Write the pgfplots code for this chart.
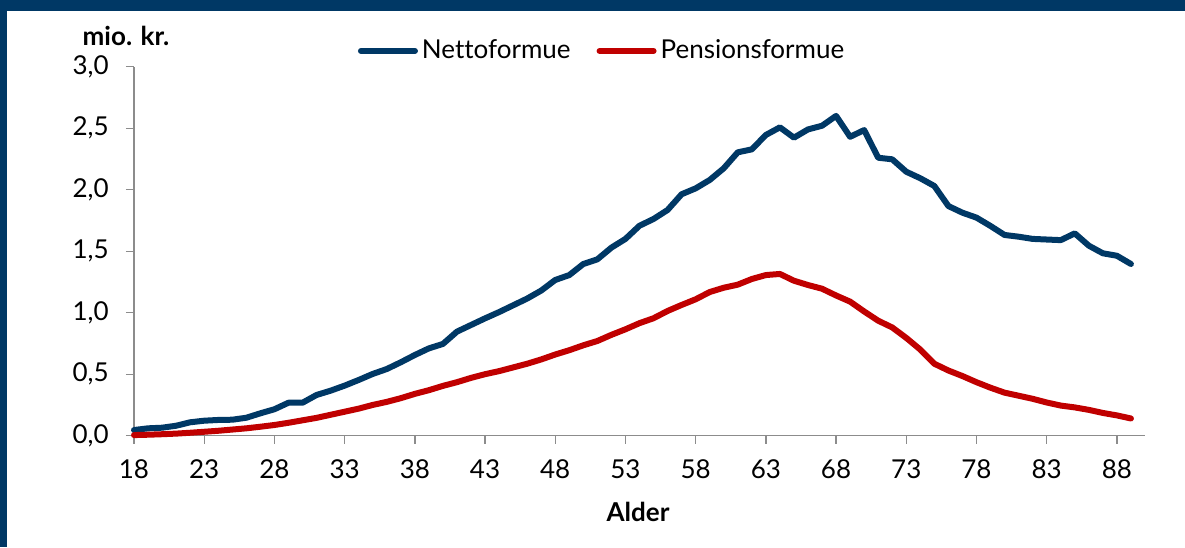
\documentclass[border=0pt]{standalone}
\usepackage{fontspec}
\setmainfont{Lato}[Ligatures={NoCommon}]
\usepackage{pgfplots}
\pgfplotsset{compat=1.18}
\definecolor{dkblue}{RGB}{0,56,101}
\definecolor{dkred}{RGB}{192,0,0}
\definecolor{axgray}{RGB}{140,140,140}
\begin{document}
\begin{tikzpicture}[font=\fontsize{13}{15.6}\selectfont]
\useasboundingbox (0,0) rectangle (592.5pt,273.5pt);
\fill[white] (0,0) rectangle (592.5pt,273.5pt);
\fill[dkblue] (0,268pt) rectangle (592.5pt,273.5pt);
\fill[dkblue] (0,0) rectangle (3.5pt,273.5pt);
\begin{axis}[
  at={(67pt,55.65pt)}, anchor=south west,
  scale only axis, width=505.5pt, height=184.5pt,
  xmin=18, xmax=90, ymin=0, ymax=3,
  axis lines*=left,
  axis line style={axgray, line width=0.7pt},
  every tick/.style={axgray, line width=0.7pt},
  tick align=outside, major tick length=4pt,
  xtick={18,23,...,88}, ytick={0,0.5,...,3},
  /pgf/number format/.cd, fixed, fixed zerofill, precision=1, use comma, assume math mode=true,
  /pgfplots/.cd,
  xticklabel={\pgfmathprintnumber[int detect]{\tick}},
  yticklabel style={inner sep=0pt, anchor=east, xshift=-8.5pt},
  xticklabel style={inner sep=0pt, anchor=north, yshift=-8pt},
  legend style={at={(0.464,1.0426)}, anchor=center, draw=none, fill=none,
    legend columns=2, column sep=0pt, inner sep=0pt,
    /tikz/every even column/.append style={column sep=11pt}},
  legend image code/.code={\draw[#1, line cap=round] (0pt,0pt) -- (27pt,0pt);},
  legend cell align=left,
  clip=false,
]
\addplot[dkblue, line width=3pt, line join=round, line cap=round] coordinates {
(18,0.046)(19,0.060)(20,0.065)(21,0.081)(22,0.109)(23,0.122)(24,0.128)(25,0.130)
(26,0.146)(27,0.182)(28,0.215)(29,0.268)(30,0.268)(31,0.331)(32,0.366)(33,0.407)
(34,0.453)(35,0.502)(36,0.542)(37,0.597)(38,0.656)(39,0.710)(40,0.746)(41,0.846)
(42,0.900)(43,0.954)(44,1.005)(45,1.060)(46,1.115)(47,1.180)(48,1.266)(49,1.306)
(50,1.396)(51,1.434)(52,1.529)(53,1.600)(54,1.707)(55,1.762)(56,1.835)(57,1.963)
(58,2.011)(59,2.079)(60,2.174)(61,2.304)(62,2.328)(63,2.445)(64,2.507)(65,2.423)
(66,2.490)(67,2.520)(68,2.600)(69,2.430)(70,2.485)(71,2.260)(72,2.247)(73,2.146)
(74,2.093)(75,2.030)(76,1.867)(77,1.813)(78,1.773)(79,1.705)(80,1.632)(81,1.618)
(82,1.600)(83,1.595)(84,1.590)(85,1.645)(86,1.545)(87,1.483)(88,1.463)(89,1.396)
};
\addlegendentry{Nettoformue}
\addplot[dkred, line width=3pt, line join=round, line cap=round] coordinates {
(18,0.005)(19,0.008)(20,0.012)(21,0.017)(22,0.024)(23,0.032)(24,0.040)(25,0.050)
(26,0.060)(27,0.073)(28,0.087)(29,0.105)(30,0.125)(31,0.145)(32,0.170)(33,0.195)
(34,0.220)(35,0.250)(36,0.275)(37,0.305)(38,0.340)(39,0.370)(40,0.405)(41,0.435)
(42,0.470)(43,0.500)(44,0.525)(45,0.555)(46,0.585)(47,0.620)(48,0.660)(49,0.695)
(50,0.735)(51,0.770)(52,0.820)(53,0.865)(54,0.915)(55,0.955)(56,1.014)(57,1.063)
(58,1.109)(59,1.168)(60,1.203)(61,1.228)(62,1.274)(63,1.306)(64,1.315)(65,1.260)
(66,1.225)(67,1.195)(68,1.140)(69,1.090)(70,1.010)(71,0.935)(72,0.880)(73,0.795)
(74,0.700)(75,0.585)(76,0.530)(77,0.485)(78,0.435)(79,0.390)(80,0.350)(81,0.325)
(82,0.300)(83,0.270)(84,0.245)(85,0.230)(86,0.210)(87,0.185)(88,0.165)(89,0.140)
};
\addlegendentry{Pensionsformue}
\end{axis}
\node[font=\fontsize{13}{15.6}\selectfont\bfseries] at (63pt,255.5pt) {mio. kr.};
\node[font=\fontsize{13}{15.6}\selectfont\bfseries] at (319pt,17.5pt) {Alder};
\end{tikzpicture}
\end{document}
